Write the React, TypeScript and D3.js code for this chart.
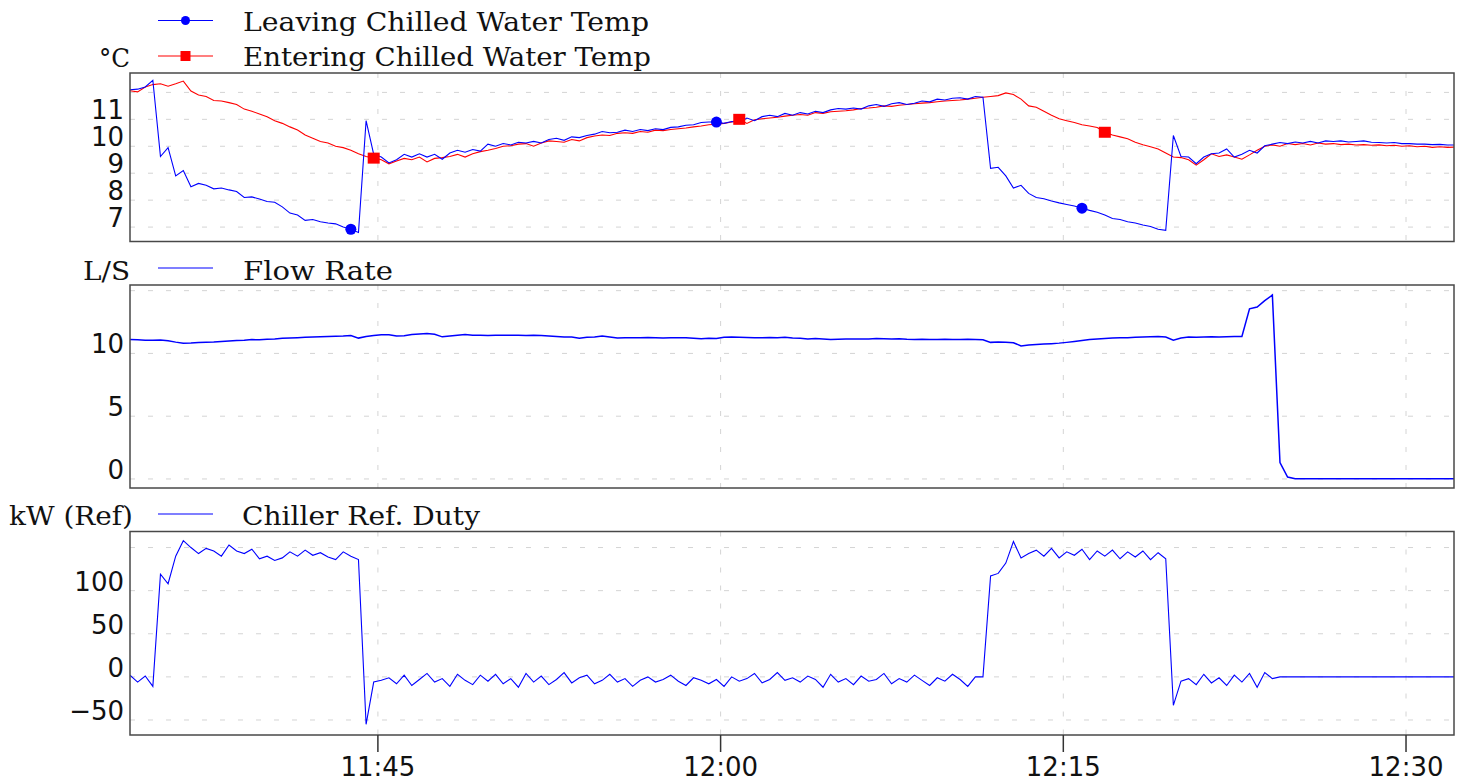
import React from 'react';
import * as d3 from 'd3';

// ── Data (one sample every 20 s starting 11:34:09) ─────────────────────────
const SAMPLE_SECONDS = 20;
const START_TIME = '11:34:09';
const END_TIME = '12:32:06';
const timeTickLabels = ['11:45', '12:00', '12:15', '12:30'];

const leavingTemp = [
  12.10, 12.12, 12.20, 12.45, 9.62, 9.95, 8.90, 9.10, 8.50, 8.62,
  8.55, 8.42, 8.45, 8.38, 8.32, 8.10, 8.12, 8.04, 7.95, 7.92,
  7.75, 7.52, 7.45, 7.25, 7.28, 7.20, 7.15, 7.12, 7.00, 6.92,
  6.80, 10.95, 9.70, 9.60, 9.38, 9.50, 9.70, 9.60, 9.72, 9.60,
  9.70, 9.52, 9.75, 9.85, 9.78, 9.88, 9.82, 10.08, 10.00, 10.10,
  10.05, 10.15, 10.12, 10.18, 10.12, 10.25, 10.30, 10.22, 10.35, 10.32,
  10.40, 10.45, 10.55, 10.50, 10.52, 10.60, 10.55, 10.62, 10.58, 10.65,
  10.62, 10.70, 10.72, 10.78, 10.80, 10.88, 10.90, 10.90, 10.85, 10.92,
  10.88, 11.05, 10.95, 11.10, 11.15, 11.10, 11.22, 11.15, 11.25, 11.20,
  11.30, 11.25, 11.35, 11.40, 11.38, 11.42, 11.38, 11.50, 11.55, 11.48,
  11.58, 11.62, 11.55, 11.60, 11.68, 11.65, 11.75, 11.72, 11.78, 11.80,
  11.75, 11.85, 11.82, 9.18, 9.22, 8.90, 8.45, 8.55, 8.25, 8.10,
  8.05, 7.97, 7.90, 7.84, 7.78, 7.70, 7.62, 7.55, 7.45, 7.32,
  7.28, 7.20, 7.15, 7.08, 7.02, 6.92, 6.88, 10.40, 9.62, 9.60,
  9.35, 9.60, 9.72, 9.75, 9.90, 9.60, 9.70, 9.85, 9.75, 10.02,
  10.08, 10.14, 10.10, 10.16, 10.12, 10.18, 10.12, 10.20, 10.18, 10.20,
  10.16, 10.18, 10.20, 10.15, 10.14, 10.12, 10.14, 10.10, 10.10, 10.08,
  10.08, 10.06, 10.07, 10.05, 10.05,
];

const enteringTemp = [
  12.06, 12.02, 12.20, 12.29, 12.32, 12.23, 12.32, 12.42, 12.05, 11.90,
  11.85, 11.70, 11.68, 11.62, 11.55, 11.38, 11.30, 11.20, 11.10, 10.95,
  10.85, 10.72, 10.60, 10.42, 10.30, 10.18, 10.12, 10.00, 9.95, 9.85,
  9.72, 9.62, 9.56, 9.50, 9.35, 9.45, 9.55, 9.50, 9.60, 9.42,
  9.55, 9.58, 9.62, 9.70, 9.60, 9.72, 9.80, 9.85, 9.92, 10.00,
  10.02, 10.08, 10.10, 10.00, 10.12, 10.20, 10.18, 10.15, 10.25, 10.20,
  10.32, 10.38, 10.42, 10.40, 10.48, 10.50, 10.48, 10.55, 10.52, 10.60,
  10.58, 10.62, 10.65, 10.68, 10.72, 10.75, 10.80, 10.82, 10.85, 10.90,
  11.00, 10.85, 10.98, 11.02, 11.05, 11.08, 11.12, 11.15, 11.18, 11.15,
  11.25, 11.22, 11.28, 11.30, 11.32, 11.35, 11.40, 11.42, 11.45, 11.50,
  11.48, 11.52, 11.55, 11.58, 11.60, 11.62, 11.65, 11.68, 11.70, 11.72,
  11.75, 11.78, 11.82, 11.85, 11.88, 11.98, 11.92, 11.75, 11.50, 11.45,
  11.30, 11.15, 11.02, 10.95, 10.88, 10.80, 10.75, 10.70, 10.52, 10.42,
  10.35, 10.28, 10.15, 10.06, 9.98, 9.90, 9.75, 9.60, 9.58, 9.50,
  9.30, 9.50, 9.72, 9.62, 9.68, 9.60, 9.52, 9.68, 9.85, 10.00,
  10.05, 10.00, 10.10, 10.06, 10.10, 10.05, 10.12, 10.08, 10.10, 10.06,
  10.08, 10.05, 10.06, 10.04, 10.05, 10.02, 10.04, 10.00, 10.02, 9.98,
  10.00, 9.96, 9.98, 9.96, 9.97,
];

const flowRate = [
  11.10, 11.08, 11.05, 11.05, 11.06, 11.00, 10.90, 10.82, 10.83, 10.86,
  10.88, 10.90, 10.95, 10.98, 11.02, 11.05, 11.10, 11.08, 11.12, 11.15,
  11.20, 11.22, 11.25, 11.28, 11.30, 11.33, 11.35, 11.36, 11.38, 11.42,
  11.22, 11.35, 11.42, 11.48, 11.48, 11.38, 11.40, 11.50, 11.55, 11.58,
  11.52, 11.32, 11.38, 11.45, 11.50, 11.45, 11.45, 11.42, 11.45, 11.44,
  11.45, 11.44, 11.42, 11.45, 11.42, 11.38, 11.35, 11.30, 11.30, 11.20,
  11.28, 11.30, 11.38, 11.30, 11.22, 11.25, 11.25, 11.24, 11.26, 11.25,
  11.22, 11.25, 11.24, 11.25, 11.20, 11.16, 11.20, 11.18, 11.28, 11.30,
  11.28, 11.26, 11.25, 11.25, 11.26, 11.25, 11.28, 11.22, 11.20, 11.15,
  11.18, 11.15, 11.10, 11.12, 11.14, 11.15, 11.14, 11.15, 11.18, 11.16,
  11.15, 11.16, 11.12, 11.10, 11.12, 11.10, 11.10, 11.12, 11.10, 11.10,
  11.12, 11.10, 11.08, 10.88, 10.90, 10.88, 10.85, 10.60, 10.68, 10.72,
  10.75, 10.78, 10.82, 10.88, 10.95, 11.02, 11.10, 11.15, 11.18, 11.22,
  11.25, 11.24, 11.28, 11.30, 11.32, 11.35, 11.30, 11.05, 11.22, 11.30,
  11.28, 11.30, 11.32, 11.30, 11.32, 11.35, 11.35, 13.55, 13.70, 14.20,
  14.65, 1.30, 0.15, 0.02, 0.02, 0.02, 0.02, 0.02, 0.02, 0.02,
  0.02, 0.02, 0.02, 0.02, 0.02, 0.02, 0.02, 0.02, 0.02, 0.02,
  0.02, 0.02, 0.02, 0.02, 0.02,
];

const chillerDuty = [
  2, -6, 1, -11, 119, 108, 140, 158, 150, 143,
  149, 146, 140, 153, 146, 143, 148, 137, 140, 135,
  138, 145, 140, 147, 141, 144, 139, 136, 145, 140,
  136, -55, -6, -4, -1, -8, 2, -10, -3, 4,
  -6, -2, -11, 3, -4, -9, 2, -5, 3, -8,
  -2, -12, 4, -6, 1, -9, -3, 5, -7, -1,
  2, -8, -4, 3, -6, -2, -11, -4, 0, -6,
  -3, 2, -5, -10, -1, -4, -8, -3, -11, 0,
  -5, -2, 4, -7, -3, 5, -4, -1, -6, 1,
  -3, -12, 3, -6, -2, -9, 1, -5, -3, 4,
  -8, -2, -6, 2, -4, -10, -1, -5, 3, -3,
  -11, 0, 0, 117, 120, 132, 157, 138, 143, 147,
  140, 149, 138, 145, 141, 148, 136, 146, 140, 147,
  137, 145, 139, 146, 136, 144, 137, -33, -5, -2,
  -9, 3, -7, -1, -10, 2, -6, 4, -12, 5,
  -2, 0, 0, 0, 0, 0, 0, 0, 0, 0,
  0, 0, 0, 0, 0, 0, 0, 0, 0, 0,
  0, 0, 0, 0, 0,
];

// sample indices that carry a legend marker
const leavingMarkerIdx = [29, 77, 125];
const enteringMarkerIdx = [32, 80, 128];

// gridlines / labelled ticks per panel
const tempGrid = [7, 8, 9, 10, 11, 12];
const tempLabels = [7, 8, 9, 10, 11];
const flowGrid = [0, 5, 10, 15];
const flowLabels = [0, 5, 10];
const dutyGrid = [-50, 0, 50, 100, 150];
const dutyLabels = [-50, 0, 50, 100];

const BLUE = '#0000ff';
const RED = '#ff0000';
const GRID = '#d4d4d4';
const FRAME = '#484848';
const LEG_FONT = '"DejaVu Serif", serif';
const TICK_FONT = '"DejaVu Sans", sans-serif';

const parseHMS = d3.timeParse('%H:%M:%S');
const parseHM = d3.timeParse('%H:%M');

export default function App() {
  const W = 1463, H = 781;
  const X0 = 130, X1 = 1454;

  const t0 = parseHMS(START_TIME)!;
  const t1 = parseHMS(END_TIME)!;
  const times = leavingTemp.map((_, i) => d3.timeSecond.offset(t0, i * SAMPLE_SECONDS));
  const x = d3.scaleTime().domain([t0, t1]).range([X0, X1]);
  const tickTimes = timeTickLabels.map(s => parseHM(s)!);

  const panels = [
    { id: 'p1', top: 73, bottom: 241.5, domain: [6.465, 12.72], grid: tempGrid, labels: tempLabels },
    { id: 'p2', top: 285, bottom: 488, domain: [-0.72, 15.45], grid: flowGrid, labels: flowLabels },
    { id: 'p3', top: 531.5, bottom: 735, domain: [-67.4, 168.6], grid: dutyGrid, labels: dutyLabels },
  ].map(p => ({ ...p, y: d3.scaleLinear().domain(p.domain).range([p.bottom, p.top]) }));

  const [p1, p2, p3] = panels;

  const lineFor = (y: d3.ScaleLinear<number, number>) =>
    d3.line<number>().x((_, i) => x(times[i])).y(v => y(v));

  return (
    <svg width={W} height={H} style={{ position: 'absolute', left: 0, top: 0, background: '#fff' }}>
      <defs>
        {panels.map(p => (
          <clipPath id={`clip-${p.id}`} key={p.id}>
            <rect x={X0} y={p.top} width={X1 - X0} height={p.bottom - p.top} />
          </clipPath>
        ))}
      </defs>

      {/* grids */}
      {panels.map(p => (
        <g key={`g-${p.id}`} stroke={GRID} strokeWidth={1} strokeDasharray="5,13">
          {p.grid.map(v => (
            <line key={v} x1={X0} x2={X1} y1={p.y(v)} y2={p.y(v)} />
          ))}
          {tickTimes.map((t, i) => (
            <line key={i} x1={x(t)} x2={x(t)} y1={p.top} y2={p.bottom} />
          ))}
        </g>
      ))}

      {/* tick labels */}
      {panels.map(p => (
        <g key={`l-${p.id}`} fontFamily={TICK_FONT} fontSize={26} fill="#111" textAnchor="end">
          {p.labels.map(v => (
            <text key={v} x={124} y={p.y(v)}>{v < 0 ? `−${Math.abs(v)}` : v}</text>
          ))}
        </g>
      ))}

      {/* series */}
      <g clipPath="url(#clip-p1)" fill="none" strokeWidth={1.1}>
        <path d={lineFor(p1.y)(enteringTemp)!} stroke={RED} />
        <path d={lineFor(p1.y)(leavingTemp)!} stroke={BLUE} />
      </g>
      <g clipPath="url(#clip-p1)">
        {enteringMarkerIdx.map(i => (
          <rect key={i} x={x(times[i]) - 6} y={p1.y(enteringTemp[i]) - 5.5} width={12} height={11} fill={RED} />
        ))}
        {leavingMarkerIdx.map(i => (
          <circle key={i} cx={x(times[i])} cy={p1.y(leavingTemp[i])} r={5.5} fill={BLUE} />
        ))}
      </g>
      <g clipPath="url(#clip-p2)" fill="none">
        <path d={lineFor(p2.y)(flowRate)!} stroke={BLUE} strokeWidth={1.5} />
      </g>
      <g clipPath="url(#clip-p3)" fill="none">
        <path d={lineFor(p3.y)(chillerDuty)!} stroke={BLUE} strokeWidth={1.1} />
      </g>

      {/* frames */}
      {panels.map(p => (
        <rect key={`f-${p.id}`} x={X0} y={p.top} width={X1 - X0} height={p.bottom - p.top}
          fill="none" stroke={FRAME} strokeWidth={1.5} />
      ))}

      {/* time axis */}
      <g>
        {tickTimes.map((t, i) => (
          <g key={i}>
            <line x1={x(t)} x2={x(t)} y1={p3.bottom} y2={p3.bottom + 17} stroke="#333" strokeWidth={1.5} />
            <text x={x(t)} y={776} textAnchor="middle" fontFamily={TICK_FONT} fontSize={26} fill="#111">
              {timeTickLabels[i]}
            </text>
          </g>
        ))}
      </g>

      {/* legends */}
      <g fontFamily={LEG_FONT} fontSize={26} fill="#111">
        <line x1={158} x2={213} y1={20.5} y2={20.5} stroke={BLUE} strokeWidth={1.2} />
        <circle cx={185.5} cy={20.5} r={4.5} fill={BLUE} />
        <text x={243} y={31} textLength={406} lengthAdjust="spacingAndGlyphs">Leaving Chilled Water Temp</text>

        <text x={99} y={67} textLength={31} lengthAdjust="spacingAndGlyphs">°C</text>
        <line x1={158} x2={213} y1={56} y2={56} stroke={RED} strokeWidth={1.2} />
        <rect x={180.5} y={51} width={10} height={10} fill={RED} />
        <text x={243} y={66} textLength={408} lengthAdjust="spacingAndGlyphs">Entering Chilled Water Temp</text>

        <text x={83} y={280} textLength={47} lengthAdjust="spacingAndGlyphs">L/S</text>
        <line x1={158} x2={213} y1={268} y2={268} stroke={BLUE} strokeWidth={1.2} />
        <text x={243} y={280} textLength={150} lengthAdjust="spacingAndGlyphs">Flow Rate</text>

        <text x={9} y={525} textLength={124} lengthAdjust="spacingAndGlyphs">kW (Ref)</text>
        <line x1={158} x2={213} y1={514} y2={514} stroke={BLUE} strokeWidth={1.2} />
        <text x={242} y={525} textLength={238} lengthAdjust="spacingAndGlyphs">Chiller Ref. Duty</text>
      </g>
    </svg>
  );
}
